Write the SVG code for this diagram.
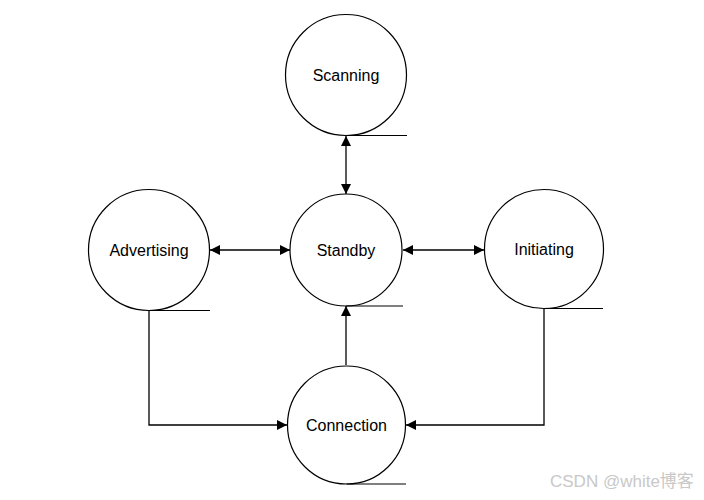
<svg xmlns="http://www.w3.org/2000/svg" width="704" height="500" viewBox="0 0 704 500">
<style>
.n{fill:#fff;stroke:#000;stroke-width:1.2}
.u{stroke:#000;stroke-width:1.2;fill:none}
.t{font-family:"Liberation Sans",Arial,sans-serif;font-size:16px;fill:#000;text-anchor:middle;dominant-baseline:central}
.c{stroke:#000;stroke-width:1.3;fill:none}
.wm{font-family:"Liberation Sans","Noto Sans CJK SC",sans-serif;font-size:17px;fill:#c8c8c8}
</style>
<defs>
<marker id="ae" markerWidth="10" markerHeight="10" refX="10" refY="5" orient="auto" markerUnits="userSpaceOnUse"><path d="M0,0 L10,5 L0,10 Z" fill="#000"/></marker>
<marker id="as" markerWidth="10" markerHeight="10" refX="0" refY="5" orient="auto" markerUnits="userSpaceOnUse"><path d="M10,0 L0,5 L10,10 Z" fill="#000"/></marker>
</defs>
<rect width="704" height="500" fill="#fff"/>
<g id="connectors">
<path class="c" d="M346,136 V194" marker-start="url(#as)" marker-end="url(#ae)"/>
<path class="c" d="M210,250 H290" marker-start="url(#as)" marker-end="url(#ae)"/>
<path class="c" d="M403,250 H484" marker-start="url(#as)" marker-end="url(#ae)"/>
<path class="c" d="M346,365 V306" marker-end="url(#ae)"/>
<path class="c" d="M149,310 V425 H287" marker-end="url(#ae)"/>
<path class="c" d="M544,309 V425 H406" marker-end="url(#ae)"/>
</g>
<g id="scanning"><circle class="n" cx="346" cy="75" r="60.5"/><path class="u" d="M346,135.5 H407"/><text class="t" x="346" y="75">Scanning</text></g>
<g id="standby"><circle class="n" cx="346" cy="250" r="56"/><path class="u" d="M346,306 H403"/><text class="t" x="346" y="250">Standby</text></g>
<g id="advertising"><circle class="n" cx="149" cy="250" r="60.5"/><path class="u" d="M149,310.5 H210"/><text class="t" x="149" y="250">Advertising</text></g>
<g id="initiating"><circle class="n" cx="544" cy="249" r="59.5"/><path class="u" d="M544,308.5 H603"/><text class="t" x="544" y="249">Initiating</text></g>
<g id="connection"><circle class="n" cx="346.5" cy="425" r="59"/><path class="u" d="M346.5,484 H406"/><text class="t" x="346.5" y="425">Connection</text></g>
<text class="wm" x="550" y="487">CSDN @white博客</text>
</svg>
